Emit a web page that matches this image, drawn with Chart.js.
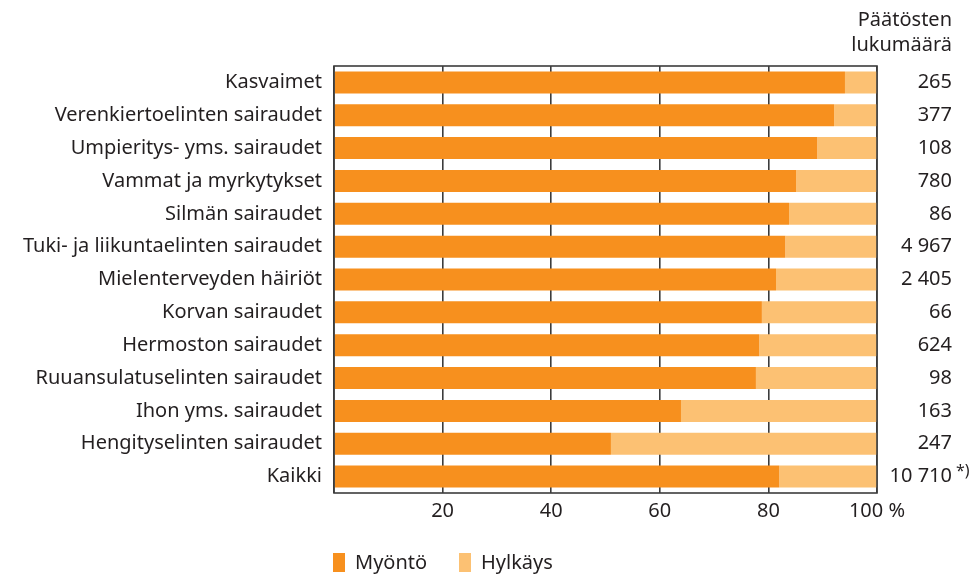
<!DOCTYPE html>
<html>
<head>
<meta charset="utf-8">
<script src="https://cdn.jsdelivr.net/npm/chart.js@4"></script>
<style>
    html, body { margin: 0; padding: 0; background: #fff; }
    #wrap { width: 977px; height: 576px; position: relative; }
</style>
</head>
<body>
<div id="wrap"><canvas id="chart"></canvas></div>
<script>
const categories = [
    "Kasvaimet",
    "Verenkiertoelinten sairaudet",
    "Umpieritys- yms. sairaudet",
    "Vammat ja myrkytykset",
    "Silmän sairaudet",
    "Tuki- ja liikuntaelinten sairaudet",
    "Mielenterveyden häiriöt",
    "Korvan sairaudet",
    "Hermoston sairaudet",
    "Ruuansulatuselinten sairaudet",
    "Ihon yms. sairaudet",
    "Hengityselinten sairaudet",
    "Kaikki",
];
const myonto = [94.1, 92.1, 89.0, 85.1, 83.8, 83.1, 81.4, 78.8, 78.3, 77.7, 63.9, 51.0, 82.0];
const hylkays = myonto.map((v) => Math.round((100 - v) * 10) / 10);
const counts = ["265", "377", "108", "780", "86", "4 967", "2 405", "66", "624", "98", "163", "247", "10 710"];
const countNotes = ["", "", "", "", "", "", "", "", "", "", "", "", "*)"];
const countsTitle = ["Päätösten", "lukumäärä"];
const xTicks = [0, 20, 40, 60, 80, 100];

const FONT = "'Noto Sans', sans-serif";
const TEXT = "#231f20";
const FRAME = "#3c3c3c";

const extras = {
    id: "extras",
    afterDatasetsDraw(chart) {
        const { ctx, chartArea: a, scales } = chart;
        ctx.save();
        ctx.strokeStyle = FRAME;
        ctx.lineWidth = 1.6;
        ctx.strokeRect(a.left, a.top, a.right - a.left, a.bottom - a.top);

        ctx.fillStyle = TEXT;
        ctx.font = "20px " + FONT;
        ctx.textAlign = "right";
        ctx.textBaseline = "middle";
        const rx = 952;
        counts.forEach((c, i) => {
            const y = scales.y.getPixelForValue(i);
            ctx.fillText(c, rx, y);
            if (countNotes[i]) {
                ctx.textAlign = "left";
                ctx.font = "16px " + FONT;
                ctx.fillText(countNotes[i], rx + 4, y - 5);
                ctx.font = "20px " + FONT;
                ctx.textAlign = "right";
            }
        });
        ctx.fillText(countsTitle[0], rx, 20);
        ctx.fillText(countsTitle[1], rx, 45);

        // legend
        let lx = 333;
        const ly = 563;
        chart.data.datasets.forEach((ds) => {
            ctx.fillStyle = ds.backgroundColor;
            ctx.fillRect(lx, ly - 10, 12, 19);
            ctx.fillStyle = TEXT;
            ctx.textAlign = "left";
            ctx.fillText(ds.label, lx + 22, ly);
            lx += 126;
        });
        ctx.restore();
    },
};

new Chart(document.getElementById("chart"), {
    type: "bar",
    data: {
        labels: categories,
        datasets: [
            {
                label: "Myöntö",
                data: myonto,
                backgroundColor: "#f7901e",
                barPercentage: 0.67,
                categoryPercentage: 1,
            },
            {
                label: "Hylkäys",
                data: hylkays,
                backgroundColor: "#fcc173",
                barPercentage: 0.67,
                categoryPercentage: 1,
            },
        ],
    },
    options: {
        indexAxis: "y",
        responsive: true,
        maintainAspectRatio: false,
        animation: false,
        layout: {
            padding: { top: 66, right: 100, bottom: 53, left: 0 },
        },
        plugins: {
            legend: { display: false },
            tooltip: { enabled: false },
        },
        scales: {
            x: {
                stacked: true,
                min: 0,
                max: 100,
                afterBuildTicks: (scale) => {
                    scale.ticks = xTicks.map((v) => ({ value: v }));
                },
                afterFit: (scale) => {
                    scale.height = 30;
                },
                border: { display: false },
                grid: {
                    color: FRAME,
                    lineWidth: 1.6,
                    drawTicks: false,
                },
                ticks: {
                    padding: 6,
                    color: TEXT,
                    font: { family: FONT, size: 20 },
                    maxRotation: 0,
                    callback: (v) => (v === 0 ? "" : v === 100 ? "100 %" : v),
                },
            },
            y: {
                stacked: true,
                afterFit: (scale) => {
                    scale.width = 334;
                },
                border: { display: false },
                grid: { display: false, drawTicks: false },
                ticks: {
                    padding: 12,
                    color: TEXT,
                    font: { family: FONT, size: 20 },
                },
            },
        },
    },
    plugins: [extras],
});
</script>
</body>
</html>
